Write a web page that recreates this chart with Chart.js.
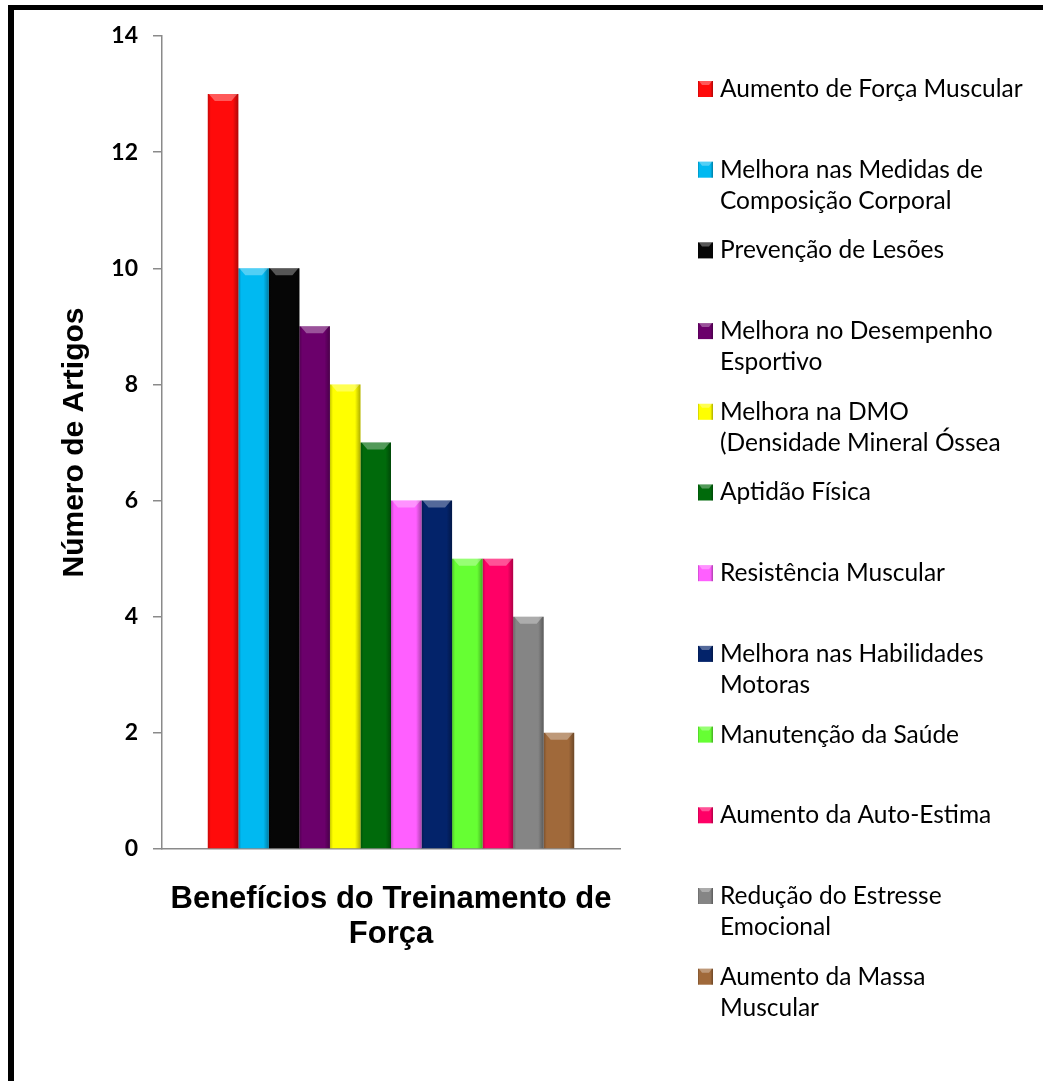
<!DOCTYPE html>
<html>
<head>
<meta charset="utf-8">
<script src="https://cdn.jsdelivr.net/npm/chart.js@4.4.1/dist/chart.umd.min.js"></script>
<style>
  html, body { margin: 0; padding: 0; background: #fff; }
  #wrap { position: relative; width: 1043px; height: 1081px; overflow: hidden; }
  #frame { position: absolute; left: 8px; top: 5px; right: -10px; bottom: -10px; border-top: 5px solid #000; border-left: 6px solid #000; }
  canvas { position: absolute; left: 0; top: 0; }
</style>
</head>
<body>
<div id="wrap">
  <div id="frame"></div>
  <canvas id="chart" width="1043" height="1081"></canvas>
</div>
<script>
// one category on the x axis, one dataset per benefit
var categories = [''];
var benefitNames = [
    ['Aumento de Força Muscular'],
    ['Melhora nas Medidas de', 'Composição Corporal'],
    ['Prevenção de Lesões'],
    ['Melhora no Desempenho', 'Esportivo'],
    ['Melhora na DMO', '(Densidade Mineral Óssea'],
    ['Aptidão Física'],
    ['Resistência Muscular'],
    ['Melhora nas Habilidades', 'Motoras'],
    ['Manutenção da Saúde'],
    ['Aumento da Auto-Estima'],
    ['Redução do Estresse', 'Emocional'],
    ['Aumento da Massa', 'Muscular']
];
var articleCounts = [13, 10, 10, 9, 8, 7, 6, 6, 5, 5, 4, 2];
var barColors = ['#ff0b0b', '#00b9f1', '#060606', '#6b006b', '#ffff00', '#006a0b',
                 '#ff5fff', '#03236a', '#66ff33', '#ff0066', '#858585', '#a0693a'];
var yTitle = 'Número de Artigos';
var xTitle = ['Benefícios do Treinamento de', 'Força'];

var axisGrey = '#8a8a8a';

var datasets = benefitNames.map(function (name, i) {
    return {
        label: name.join(' '),
        lines: name,
        data: [articleCounts[i]],
        backgroundColor: barColors[i],
        borderWidth: 0
    };
});

// bevelled look like the office chart: darker sides, light cap on top
function bevel(ctx, left, top, w, h, cap) {
    var g = ctx.createLinearGradient(left, 0, left + w, 0);
    g.addColorStop(0, 'rgba(0,0,0,0.22)');
    g.addColorStop(0.1, 'rgba(0,0,0,0)');
    g.addColorStop(0.82, 'rgba(0,0,0,0)');
    g.addColorStop(1, 'rgba(0,0,0,0.32)');
    ctx.fillStyle = g;
    ctx.fillRect(left, top, w, h);
    ctx.fillStyle = 'rgba(255,255,255,0.32)';
    ctx.beginPath();
    ctx.moveTo(left + 1, top);
    ctx.lineTo(left + w - 1, top);
    ctx.lineTo(left + w - cap, top + cap);
    ctx.lineTo(left + cap, top + cap);
    ctx.closePath();
    ctx.fill();
}

var bevelPlugin = {
    id: 'bevel',
    afterDatasetsDraw: function (chart) {
        var ctx = chart.ctx;
        ctx.save();
        chart.data.datasets.forEach(function (ds, i) {
            chart.getDatasetMeta(i).data.forEach(function (bar) {
                var p = bar.getProps(['x', 'y', 'base', 'width'], true);
                bevel(ctx, p.x - p.width / 2, p.y, p.width, p.base - p.y, 7);
            });
        });
        ctx.restore();
    }
};

// legend laid out like the original: fixed slot per entry, text may wrap to 2 lines
var legendX = 698, legendTop = 89, legendStep = 80.7, legendLine = 31, boxSize = 16;
var sideLegend = {
    id: 'sideLegend',
    afterDraw: function (chart) {
        var ctx = chart.ctx;
        ctx.save();
        ctx.font = '24.5px Lato';
        ctx.textBaseline = 'middle';
        ctx.fillStyle = '#000';
        chart.data.datasets.forEach(function (ds, i) {
            var y = legendTop + i * legendStep;
            ctx.fillStyle = ds.backgroundColor;
            ctx.fillRect(legendX, y - boxSize / 2, boxSize - 1, boxSize);
            bevel(ctx, legendX, y - boxSize / 2, boxSize - 1, boxSize, 4);
            ctx.fillStyle = '#000';
            ds.lines.forEach(function (t, k) {
                ctx.fillText(t, legendX + 22, y + k * legendLine);
            });
        });
        ctx.restore();
    }
};

new Chart(document.getElementById('chart'), {
    type: 'bar',
    data: { labels: categories, datasets: datasets },
    plugins: [bevelPlugin, sideLegend],
    options: {
        responsive: false,
        animation: false,
        layout: { padding: { left: 0, top: 36, right: 423, bottom: 0 } },
        datasets: { bar: { barPercentage: 1, categoryPercentage: 0.8 } },
        plugins: { legend: { display: false }, tooltip: { enabled: false } },
        scales: {
            x: {
                grid: { display: false },
                border: { display: true, color: axisGrey, width: 1.5 },
                ticks: { display: false },
                title: {
                    display: true, text: xTitle, color: '#000',
                    font: { family: 'Liberation Sans', size: 31, weight: 'bold', lineHeight: 1.13 },
                    padding: { top: 0, bottom: 129 }
                },
                afterFit: function (scale) { scale.height = 232; }
            },
            y: {
                min: 0, max: 14,
                ticks: {
                    stepSize: 2, color: '#000', padding: 15,
                    font: { family: 'Lato', size: 23, weight: 'bold' }
                },
                grid: { drawOnChartArea: false, drawTicks: true, tickLength: 9, color: axisGrey, lineWidth: 1.5 },
                border: { display: true, color: axisGrey, width: 1.5 },
                title: {
                    display: true, text: yTitle, color: '#000',
                    font: { family: 'Liberation Sans', size: 30, weight: 'bold', lineHeight: 1.2 },
                    padding: { top: 57, bottom: 0 }
                },
                afterFit: function (scale) { scale.width = 162; }
            }
        }
    }
});
</script>
</body>
</html>
